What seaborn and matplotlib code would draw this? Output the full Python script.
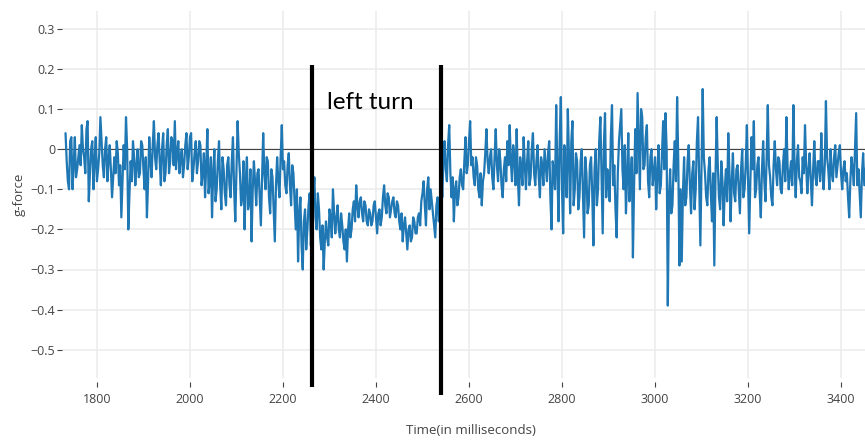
import numpy as np
import pandas as pd
import matplotlib
matplotlib.use("Agg")
import matplotlib.pyplot as plt
import seaborn as sns

# ---- data ----
# main samples every 5 ms starting at 1733 ms; "mid" samples sit halfway between them
time_start = 1733
time_step = 5

g_seg1 = [0.04, -0.08, 0.02, -0.10, 0.03, -0.05, 0.01, 0.06, -0.02, 0.05,
          -0.13, 0.00, -0.10, 0.03, -0.05, 0.08, -0.04, 0.00, -0.08, 0.01,
          -0.12, -0.02, 0.02, -0.09, -0.17, 0.01, 0.08, -0.20, -0.03, 0.02,
          -0.09, 0.00, -0.06, 0.01, -0.10, -0.17, 0.03, -0.07, 0.07, -0.05,
          0.04, -0.09, 0.04, -0.06, 0.05, -0.03, 0.02, 0.07, -0.01, -0.06,
          0.00, -0.04, 0.04, -0.02, 0.04, -0.05, 0.02, -0.03, 0.01, -0.06,
          -0.12, 0.05, -0.08, -0.17, 0.00, -0.10, 0.02, -0.15, -0.05, -0.14,
          -0.02, -0.12, 0.03, -0.18, 0.07, -0.06, -0.12, -0.20, -0.02, -0.13,
          -0.23]
g_seg2 = [-0.03, -0.14, -0.05, -0.19, 0.04, -0.10, -0.03, -0.16, -0.07, -0.23,
          -0.02, -0.12, 0.06, -0.03, -0.11, -0.01, -0.14, -0.06, -0.20, -0.28,
          -0.12, -0.30, -0.15, -0.20, -0.11, -0.19, -0.07, -0.20, -0.15, -0.25,
          -0.30, -0.18, -0.24, -0.17, -0.10, -0.21, -0.14, -0.22, -0.19, -0.25,
          -0.28, -0.16, -0.20, -0.13, -0.09, -0.17, -0.12, -0.18, -0.14, -0.19,
          -0.16, -0.18, -0.13, -0.21, -0.15, -0.17, -0.09, -0.16, -0.12, -0.15,
          -0.12, -0.17, -0.14, -0.20, -0.23, -0.17, -0.25, -0.19, -0.22, -0.18,
          -0.21, -0.16, -0.13, -0.08, -0.19, -0.07, -0.10, -0.16, -0.22, -0.12,
          -0.15]
g_seg3 = [-0.12, 0.02, -0.08, 0.06, -0.12, -0.18, -0.08, -0.12, -0.05, -0.10,
          0.03, -0.04, 0.07, -0.02, -0.09, -0.04, -0.12, -0.14, -0.06, 0.05,
          -0.06, 0.00, -0.10, 0.05, -0.08, -0.03, -0.12, -0.02, 0.02, 0.06,
          -0.08, -0.02, 0.05, -0.14, -0.05, 0.03, -0.10, 0.02, -0.07, 0.04,
          -0.09, 0.01, -0.12, -0.04, 0.00, -0.08, 0.02, -0.20, -0.06, 0.11,
          -0.18, 0.13, -0.21, -0.05, 0.10, -0.16, 0.07, -0.10, -0.03, -0.12,
          0.00, -0.22, -0.06, -0.14, -0.02, -0.24, 0.00, -0.10, 0.08, -0.21,
          0.09, -0.05, -0.13, 0.11, -0.04, -0.22, 0.02, 0.10, -0.10, -0.16,
          0.04, -0.08, -0.27, 0.05, 0.14, -0.10, 0.08, -0.04, 0.06, -0.12,
          0.00, -0.06]
g_seg4 = [-0.15, 0.01, -0.09, 0.07, 0.09, -0.39, -0.05, -0.14, 0.02, 0.13,
          -0.29, -0.28, -0.02, -0.12, 0.01, -0.16, -0.03, -0.10, 0.08, -0.24,
          0.15, -0.06, -0.14, -0.02, -0.18, -0.29, 0.08, -0.12, -0.03, -0.19,
          -0.05, 0.04, -0.18, -0.01, -0.13, -0.04, -0.16, 0.00, -0.10, 0.06,
          -0.21, 0.03, 0.07, -0.10, -0.02, -0.17, 0.02, -0.13, 0.11, -0.07,
          -0.14, 0.02, -0.09, -0.03, -0.11, 0.00, 0.08, -0.10, -0.03, 0.11,
          -0.12, 0.01, -0.08, -0.02, 0.06, -0.11, -0.01, -0.14, 0.02, -0.09,
          -0.03, 0.04, -0.10, 0.12, -0.05, 0.00, -0.08, 0.01, -0.04, 0.01,
          -0.10, -0.03, -0.06, -0.17, -0.02, -0.09, 0.09, -0.05, -0.17, -0.01,
          -0.06]

mid_seg1 = [-0.03, -0.10, 0.03, -0.04, -0.07, -0.02, -0.04, 0.00, -0.06, 0.07,
            -0.06, 0.02, -0.03, -0.08, -0.01, 0.02, -0.07, 0.03, -0.03, -0.05,
            -0.07, -0.06, -0.01, -0.04, -0.08, -0.05, 0.00, -0.11, -0.08, -0.02,
            -0.04, -0.07, 0.02, -0.05, -0.02, -0.08, -0.03, 0.01, -0.02, 0.01,
            -0.03, 0.00, -0.08, 0.01, -0.06, 0.03, -0.04, -0.05, 0.02, -0.02,
            -0.07, 0.01, -0.05, 0.03, -0.08, -0.01, -0.06, 0.02, -0.09, -0.01,
            -0.04, -0.11, -0.02, -0.06, -0.13, -0.03, -0.09, -0.02, -0.11, -0.04,
            -0.09, -0.03, -0.10, -0.06, -0.01, -0.14, -0.03, -0.08, -0.15, -0.05,
            -0.10]
mid_seg2 = [-0.08, -0.06, -0.12, -0.07, -0.06, -0.02, -0.12, -0.05, -0.15, -0.09,
            -0.08, -0.02, -0.05, -0.09, -0.04, -0.09, -0.04, -0.13, -0.10, -0.16,
            -0.24, -0.18, -0.25, -0.14, -0.24, -0.12, -0.17, -0.11, -0.22, -0.19,
            -0.23, -0.22, -0.15, -0.22, -0.16, -0.17, -0.20, -0.16, -0.23, -0.20,
            -0.20, -0.22, -0.15, -0.18, -0.14, -0.13, -0.16, -0.13, -0.18, -0.15,
            -0.19, -0.14, -0.17, -0.16, -0.19, -0.12, -0.14, -0.11, -0.17, -0.13,
            -0.16, -0.13, -0.18, -0.16, -0.19, -0.21, -0.20, -0.23, -0.17, -0.21,
            -0.17, -0.19, -0.11, -0.14, -0.10, -0.15, -0.13, -0.19, -0.14, -0.18,
            -0.05]
mid_seg3 = [-0.03, -0.05, 0.01, -0.06, -0.07, -0.10, -0.14, -0.07, -0.09, -0.03,
            -0.06, 0.02, -0.04, -0.07, -0.02, -0.10, -0.06, -0.08, -0.01, -0.03,
            -0.02, -0.07, -0.02, -0.04, 0.00, -0.09, -0.05, -0.08, -0.04, -0.03,
            0.01, -0.09, -0.07, -0.02, -0.09, -0.04, -0.03, -0.09, 0.00, -0.06,
            -0.03, -0.07, -0.02, -0.09, -0.04, -0.01, -0.12, -0.03, -0.10, -0.05,
            0.02, -0.10, 0.01, -0.12, -0.02, 0.02, -0.14, -0.01, -0.15, -0.03,
            -0.11, -0.02, -0.16, -0.04, -0.11, -0.05, -0.14, 0.02, -0.06, 0.01,
            -0.12, -0.08, 0.03, -0.09, -0.15, -0.06, 0.06, -0.05, 0.01, -0.07,
            -0.13, -0.02, -0.09, -0.06, 0.02, 0.10, -0.05, 0.03, -0.08, -0.02,
            -0.09, -0.02]
mid_seg4 = [-0.06, -0.11, -0.01, -0.05, 0.00, -0.12, -0.16, -0.04, -0.08, -0.03,
            -0.10, -0.11, -0.14, -0.03, -0.09, -0.06, -0.15, 0.02, -0.08, -0.04,
            -0.02, -0.12, -0.05, -0.11, -0.06, -0.07, -0.04, -0.15, -0.08, -0.10,
            -0.13, -0.06, -0.08, -0.11, -0.05, -0.10, -0.05, -0.12, -0.04, -0.08,
            -0.08, -0.05, -0.12, -0.04, -0.11, -0.05, -0.08, -0.02, -0.04, -0.12,
            -0.04, -0.05, -0.02, -0.10, -0.04, -0.08, -0.04, -0.06, -0.09, -0.04,
            -0.03, -0.07, -0.11, -0.06, -0.04, -0.05, -0.08, -0.05, -0.07, -0.03,
            -0.08, -0.05, -0.04, -0.02, -0.10, -0.06, -0.02, -0.07, -0.01, -0.06,
            -0.05, -0.08, -0.12, -0.08, -0.05, 0.00, -0.09, -0.11, -0.06, -0.09,
            -0.03]

turn_start = 2263
turn_end = 2540
turn_label = "left turn"
x_ticks = [1800, 2000, 2200, 2400, 2600, 2800, 3000, 3200, 3400]
y_ticks = [-0.5, -0.4, -0.3, -0.2, -0.1, 0, 0.1, 0.2, 0.3]
y_tick_labels = ["\u22120.5", "\u22120.4", "\u22120.3", "\u22120.2", "\u22120.1", "0", "0.1", "0.2", "0.3"]

g_main = g_seg1 + g_seg2 + g_seg3 + g_seg4
g_mid = mid_seg1 + mid_seg2 + mid_seg3 + mid_seg4
t_main = np.arange(len(g_main)) * time_step + time_start
t_mid = t_main[:len(g_mid)] + time_step / 2
df = (pd.concat([pd.DataFrame({"time": t_main, "gforce": g_main}),
                 pd.DataFrame({"time": t_mid, "gforce": g_mid})])
      .sort_values("time").reset_index(drop=True))

# ---- figure ----
sns.set_style("white")
plt.rcParams['font.family'] = ['Open Sans', 'DejaVu Sans']

W, H = 865, 441
fig = plt.figure(figsize=(W / 100, H / 100), dpi=100)
left, right, top, bottom = 62, 865, 11, 378
ax = fig.add_axes([left / W, 1 - bottom / H, (right - left) / W, (bottom - top) / H])

ax.set_xlim(1725.4, 3452)
ax.set_ylim(-0.5 - (bottom - 349.7) / 401, 0.3 + (28.9 - top) / 401)

ax.set_xticks(x_ticks)
ax.set_yticks(y_ticks)
ax.set_yticklabels(y_tick_labels)
ax.grid(True, color="#ebebeb", linewidth=1.1)
ax.set_axisbelow(True)
for s in ax.spines.values():
    s.set_visible(False)
ax.spines['bottom'].set_position(('outward', 3))
ax.tick_params(axis='x', length=3.5, width=0.8, color="#444444", colors="#444444",
               labelsize=9, pad=4)
ax.tick_params(axis='y', length=3.5, width=0.8, color="#444444", colors="#444444",
               labelsize=9, pad=1.5)
ax.tick_params(axis='both', which='both', bottom=True, left=True)

ax.axhline(0, color="#444444", linewidth=0.8, zorder=1)

sns.lineplot(data=df, x="time", y="gforce", ax=ax, color="#1f77b4",
             linewidth=1.6, zorder=2, estimator=None, sort=False)

ax.set_xlabel("Time(in milliseconds)", fontsize=9.5, color="#444444")
ax.set_ylabel("g-force", fontsize=9.5, color="#444444")
ax.xaxis.set_label_coords((471 - left) / (right - left), -(424 - bottom) / (bottom - top))
ax.yaxis.set_label_coords(-(left - 26) / (right - left), 0.5)

for xv, ybot in [(turn_start, -0.593), (turn_end, -0.612)]:
    ax.plot([xv, xv], [0.211, ybot], color="black", linewidth=3, clip_on=False,
            solid_capstyle="butt", zorder=4)

ax.text((turn_start + turn_end) / 2 - 14, 0.117, turn_label, fontsize=17.5,
        family=['Lato', 'DejaVu Sans'], color="black", ha="center", va="center", zorder=5)

fig.savefig("out.png", dpi=100)
